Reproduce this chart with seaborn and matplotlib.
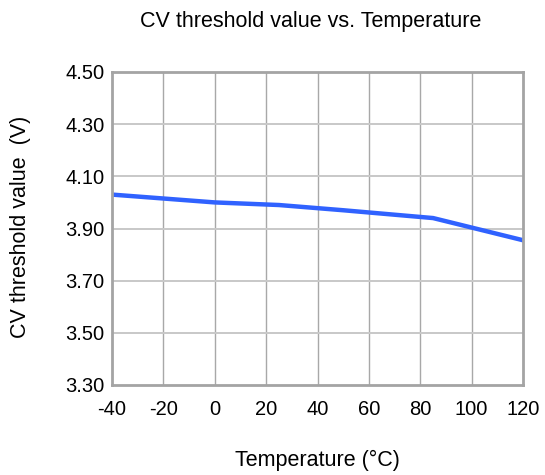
import numpy as np
import matplotlib
matplotlib.use('Agg')
import matplotlib.pyplot as plt
import pandas as pd
import seaborn as sns

# values
temps = [-40, -20, 0, 25, 50, 85, 120]
cv_values = [4.03, 4.015, 4.00, 3.99, 3.97, 3.94, 3.855]
x_ticks = [-40, -20, 0, 20, 40, 60, 80, 100, 120]
y_ticks = [3.30, 3.50, 3.70, 3.90, 4.10, 4.30, 4.50]

df = pd.DataFrame({'temp': temps, 'cv': cv_values})

sns.set_style('white')
plt.rcParams['font.family'] = ['Liberation Sans', 'DejaVu Sans']
plt.rcParams['axes.unicode_minus'] = False
plt.rcParams['text.color'] = 'black'

W, H = 545, 475
fig = plt.figure(figsize=(W / 100, H / 100), dpi=100)
ax = fig.add_axes([112 / W, 1 - 385 / H, 411 / W, 313 / H])

sns.lineplot(data=df, x='temp', y='cv', ax=ax, color='#3062ff', linewidth=3.2)

ax.set_xlim(-40, 120)
ax.set_ylim(3.30, 4.50)
ax.set_xticks(x_ticks)
ax.set_yticks(y_ticks)
ax.set_yticklabels([f'{v:.2f}' for v in y_ticks])

# grid: vertical lines a bit darker than horizontal ones
for v in x_ticks[1:-1]:
    ax.axvline(v, color='#a8a8a8', linewidth=1, zorder=0)
for v in y_ticks[1:-1]:
    ax.axhline(v, color='#c8c8c8', linewidth=1.4, zorder=0)

for s in ax.spines.values():
    s.set_color('#a4a4a4')
    s.set_linewidth(2)

ax.tick_params(axis='both', length=0, labelsize=14.5, colors='black')
ax.tick_params(axis='x', pad=11)
ax.tick_params(axis='y', pad=5.5)
ax.set_xlabel('')
ax.set_ylabel('')

fig.text(317 / W, 1 - 460 / H, 'Temperature (°C)', fontsize=15.5, ha='center',
         va='center', color='black')
fig.text(21 / W, 1 - 227 / H, 'CV threshold value  (V)', fontsize=15.5,
         ha='center', va='center', rotation=90, color='black')
fig.text(311 / W, 1 - 22 / H, 'CV threshold value vs. Temperature', fontsize=15.5,
         ha='center', va='center', color='black')

fig.savefig('out.png', dpi=100)
